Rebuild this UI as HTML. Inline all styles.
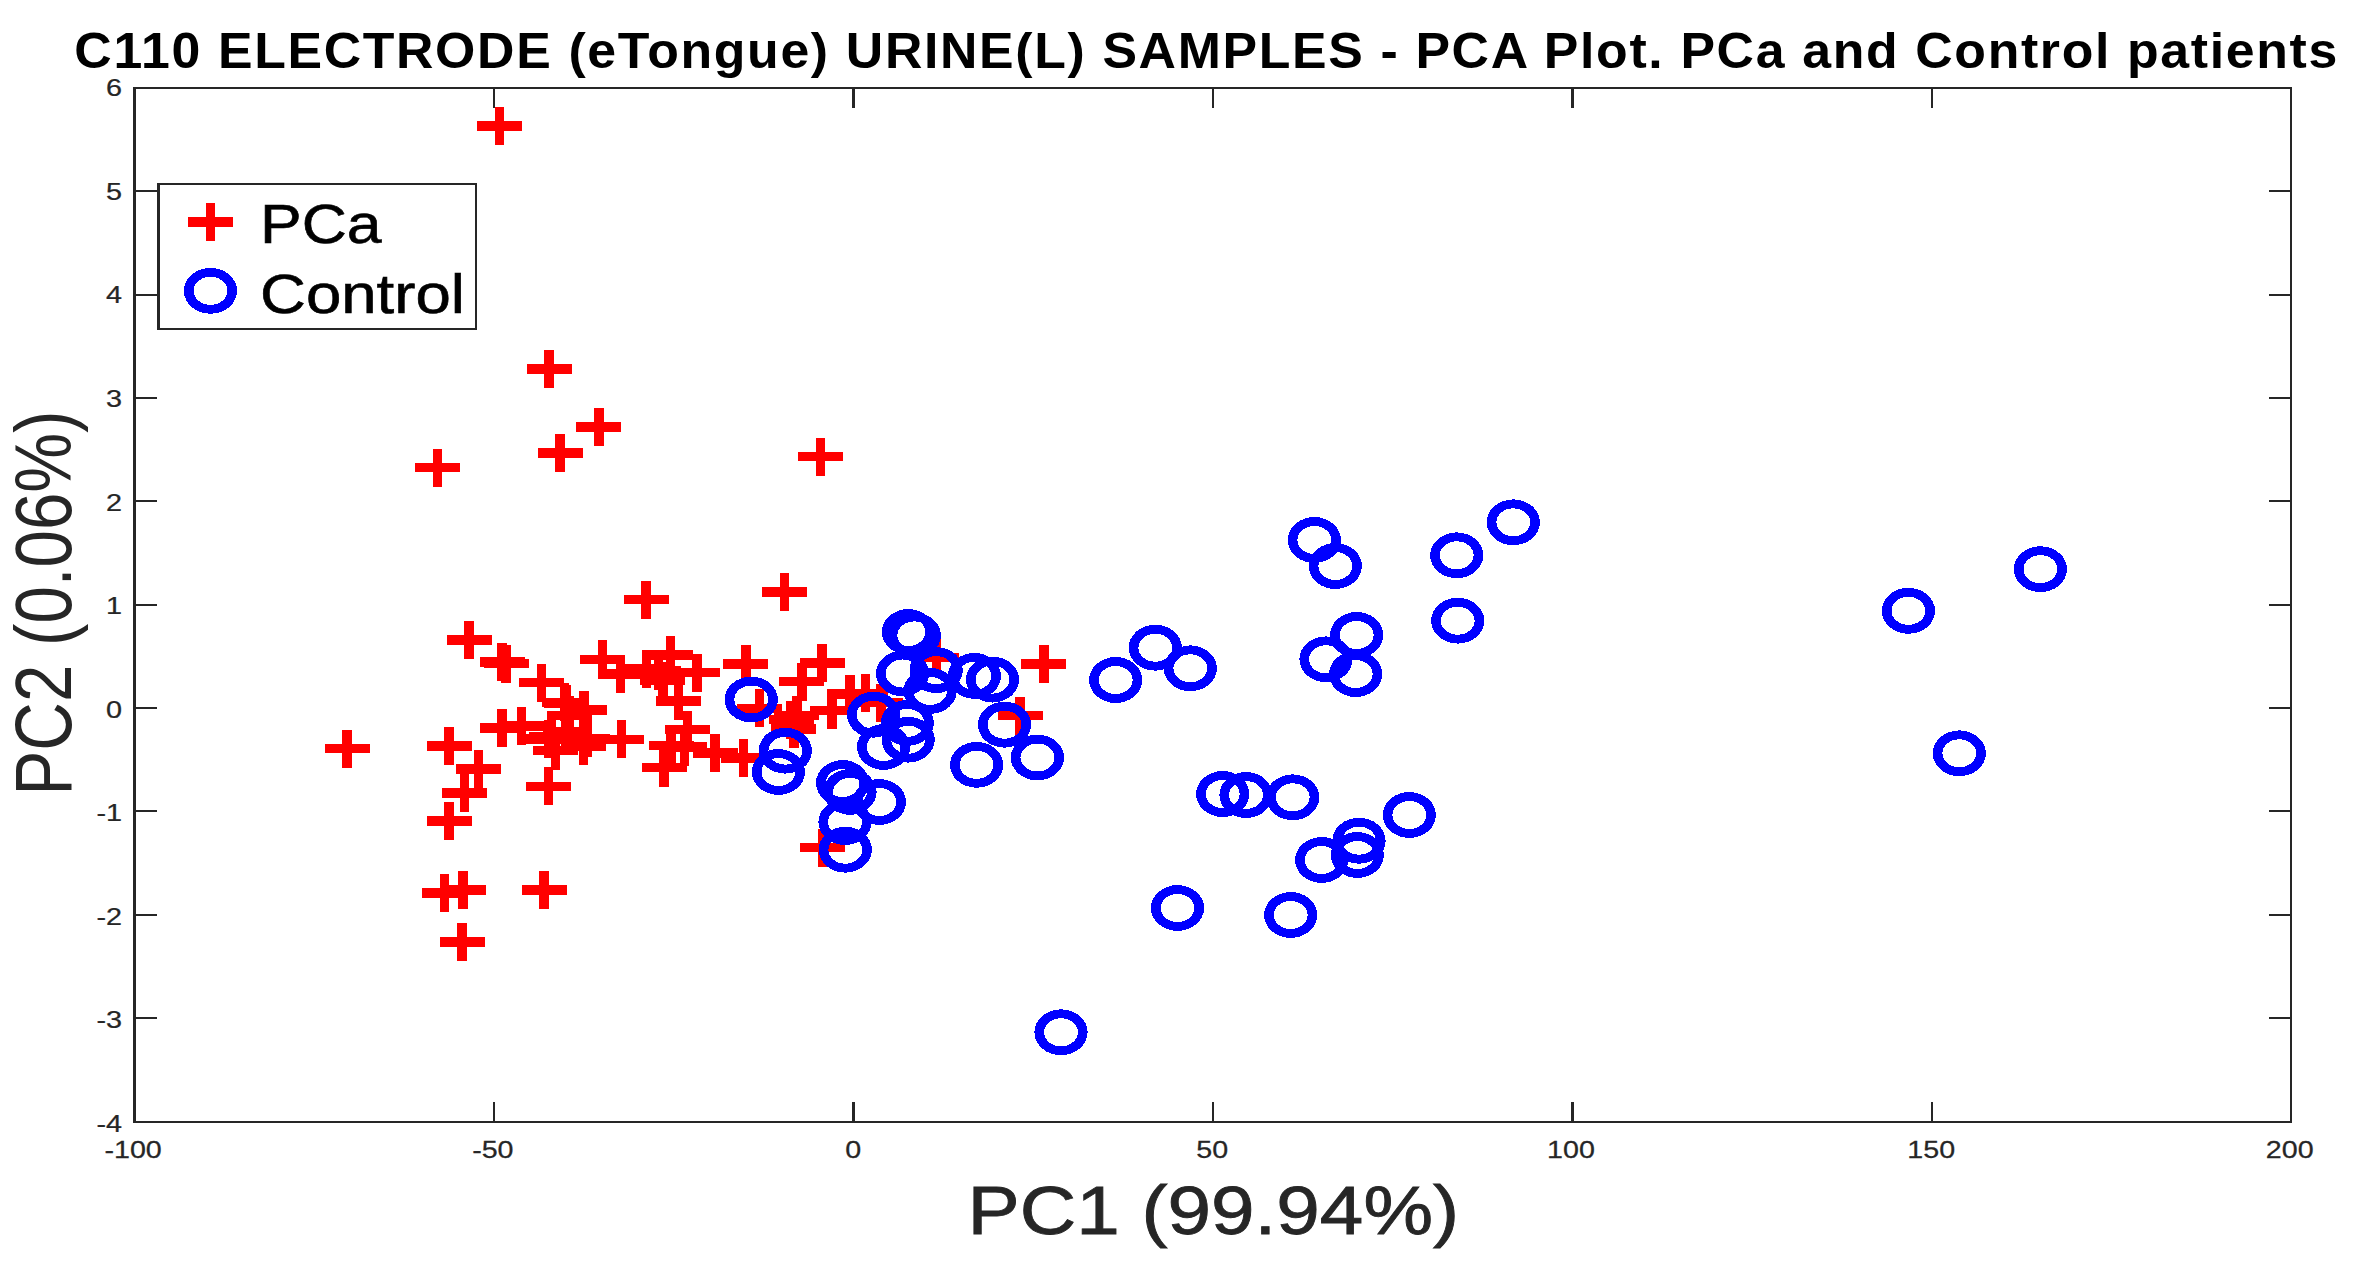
<!DOCTYPE html>
<html lang="en"><head><meta charset="utf-8">
<title>C110 ELECTRODE (eTongue) URINE(L) SAMPLES - PCA Plot</title>
<style>
html,body{margin:0;padding:0;background:#fff;}
body{width:2355px;height:1266px;overflow:hidden;}
svg{display:block;}
text{font-family:"Liberation Sans",sans-serif;}
.tk{font-size:24px;fill:#262626;stroke:#262626;stroke-width:0.25px;}
.lab{font-size:67px;fill:#262626;stroke:#262626;stroke-width:0.8px;}
.laby{stroke:none;}
.ttl{font-size:48px;font-weight:bold;fill:#000;}
.leg{font-size:54px;fill:#000;stroke:#000;stroke-width:0.6px;}
.p{fill:#ff0000;}
.c{fill:#0000ff;fill-rule:evenodd;}
</style></head><body>
<svg width="2355" height="1266" viewBox="0 0 2355 1266" shape-rendering="crispEdges">
<rect x="0" y="0" width="2355" height="1266" fill="#ffffff"/>
<g id="axes">
<rect x="133.10" y="87.00" width="2158.90" height="2.00" fill="#262626"/>
<rect x="133.10" y="1120.50" width="2158.90" height="2.00" fill="#262626"/>
<rect x="133.10" y="88.00" width="3.00" height="1033.50" fill="#262626"/>
<rect x="2290.00" y="88.00" width="2.00" height="1033.50" fill="#262626"/>
<rect x="492.80" y="1101.90" width="2.50" height="19.60" fill="#262626"/>
<rect x="492.80" y="88.00" width="2.50" height="19.60" fill="#262626"/>
<rect x="852.25" y="1101.90" width="2.50" height="19.60" fill="#262626"/>
<rect x="852.25" y="88.00" width="2.50" height="19.60" fill="#262626"/>
<rect x="1211.70" y="1101.90" width="2.50" height="19.60" fill="#262626"/>
<rect x="1211.70" y="88.00" width="2.50" height="19.60" fill="#262626"/>
<rect x="1571.15" y="1101.90" width="2.50" height="19.60" fill="#262626"/>
<rect x="1571.15" y="88.00" width="2.50" height="19.60" fill="#262626"/>
<rect x="1930.60" y="1101.90" width="2.50" height="19.60" fill="#262626"/>
<rect x="1930.60" y="88.00" width="2.50" height="19.60" fill="#262626"/>
<rect x="134.60" y="1017.15" width="22.50" height="2.00" fill="#262626"/>
<rect x="2268.80" y="1017.15" width="22.50" height="2.00" fill="#262626"/>
<rect x="134.60" y="913.80" width="22.50" height="2.00" fill="#262626"/>
<rect x="2268.80" y="913.80" width="22.50" height="2.00" fill="#262626"/>
<rect x="134.60" y="810.45" width="22.50" height="2.00" fill="#262626"/>
<rect x="2268.80" y="810.45" width="22.50" height="2.00" fill="#262626"/>
<rect x="134.60" y="707.10" width="22.50" height="2.00" fill="#262626"/>
<rect x="2268.80" y="707.10" width="22.50" height="2.00" fill="#262626"/>
<rect x="134.60" y="603.75" width="22.50" height="2.00" fill="#262626"/>
<rect x="2268.80" y="603.75" width="22.50" height="2.00" fill="#262626"/>
<rect x="134.60" y="500.40" width="22.50" height="2.00" fill="#262626"/>
<rect x="2268.80" y="500.40" width="22.50" height="2.00" fill="#262626"/>
<rect x="134.60" y="397.05" width="22.50" height="2.00" fill="#262626"/>
<rect x="2268.80" y="397.05" width="22.50" height="2.00" fill="#262626"/>
<rect x="134.60" y="293.70" width="22.50" height="2.00" fill="#262626"/>
<rect x="2268.80" y="293.70" width="22.50" height="2.00" fill="#262626"/>
<rect x="134.60" y="190.35" width="22.50" height="2.00" fill="#262626"/>
<rect x="2268.80" y="190.35" width="22.50" height="2.00" fill="#262626"/>
</g>
<g id="ticklabels">
<text class="tk" text-anchor="middle" transform="translate(133.10,1157.60) scale(1.1950,1.0200)">-100</text>
<text class="tk" text-anchor="middle" transform="translate(492.85,1157.60) scale(1.1950,1.0200)">-50</text>
<text class="tk" text-anchor="middle" transform="translate(853.10,1157.60) scale(1.1950,1.0200)">0</text>
<text class="tk" text-anchor="middle" transform="translate(1212.25,1157.60) scale(1.1950,1.0200)">50</text>
<text class="tk" text-anchor="middle" transform="translate(1571.00,1157.60) scale(1.1950,1.0200)">100</text>
<text class="tk" text-anchor="middle" transform="translate(1931.15,1157.60) scale(1.1950,1.0200)">150</text>
<text class="tk" text-anchor="middle" transform="translate(2289.70,1157.60) scale(1.1950,1.0200)">200</text>
<text class="tk" text-anchor="end" transform="translate(122.00,1131.80) scale(1.2000,1.0000)">-4</text>
<text class="tk" text-anchor="end" transform="translate(122.00,1028.25) scale(1.2000,1.0000)">-3</text>
<text class="tk" text-anchor="end" transform="translate(122.00,924.70) scale(1.2000,1.0000)">-2</text>
<text class="tk" text-anchor="end" transform="translate(122.00,821.15) scale(1.2000,1.0000)">-1</text>
<text class="tk" text-anchor="end" transform="translate(122.00,717.60) scale(1.2000,1.0000)">0</text>
<text class="tk" text-anchor="end" transform="translate(122.00,614.05) scale(1.2000,1.0000)">1</text>
<text class="tk" text-anchor="end" transform="translate(122.00,510.50) scale(1.2000,1.0000)">2</text>
<text class="tk" text-anchor="end" transform="translate(122.00,406.95) scale(1.2000,1.0000)">3</text>
<text class="tk" text-anchor="end" transform="translate(122.00,303.40) scale(1.2000,1.0000)">4</text>
<text class="tk" text-anchor="end" transform="translate(122.00,199.85) scale(1.2000,1.0000)">5</text>
<text class="tk" text-anchor="end" transform="translate(122.00,96.30) scale(1.2000,1.0000)">6</text>
</g>
<text class="ttl" text-anchor="middle" transform="translate(1206.60,67.60) scale(1.0800,1.0400)" letter-spacing="1.52">C110 ELECTRODE (eTongue) URINE(L) SAMPLES - PCA Plot. PCa and Control patients</text>
<text class="lab" text-anchor="middle" transform="translate(1213.30,1233.60) scale(1.1680,1.0200)">PC1 (99.94%)</text>
<text class="lab laby" text-anchor="middle" transform="translate(71.20,603.00) scale(1.2000,1.0040) rotate(-90)">PC2 (0.06%)</text>
<g id="pca">
<path class="p" d="M477.1 121.2h45.0v9.4h-45.0zM494.8 106.9h9.6v38.0h-9.6z"/>
<path class="p" d="M526.5 364.3h45.0v9.4h-45.0zM544.2 350.0h9.6v38.0h-9.6z"/>
<path class="p" d="M576.2 422.3h45.0v9.4h-45.0zM593.9 408.0h9.6v38.0h-9.6z"/>
<path class="p" d="M537.5 448.3h45.0v9.4h-45.0zM555.2 434.0h9.6v38.0h-9.6z"/>
<path class="p" d="M414.8 463.0h45.0v9.4h-45.0zM432.5 448.7h9.6v38.0h-9.6z"/>
<path class="p" d="M797.8 452.0h45.0v9.4h-45.0zM815.5 437.7h9.6v38.0h-9.6z"/>
<path class="p" d="M623.5 594.9h45.0v9.4h-45.0zM641.2 580.6h9.6v38.0h-9.6z"/>
<path class="p" d="M761.8 587.3h45.0v9.4h-45.0zM779.5 573.0h9.6v38.0h-9.6z"/>
<path class="p" d="M446.7 635.1h45.0v9.4h-45.0zM464.4 620.8h9.6v38.0h-9.6z"/>
<path class="p" d="M479.5 657.1h45.0v9.4h-45.0zM497.2 642.8h9.6v38.0h-9.6z"/>
<path class="p" d="M483.7 659.0h45.0v9.4h-45.0zM501.4 644.7h9.6v38.0h-9.6z"/>
<path class="p" d="M518.9 677.8h45.0v9.4h-45.0zM536.6 663.5h9.6v38.0h-9.6z"/>
<path class="p" d="M542.0 697.5h45.0v9.4h-45.0zM559.7 683.2h9.6v38.0h-9.6z"/>
<path class="p" d="M544.1 698.8h45.0v9.4h-45.0zM561.8 684.5h9.6v38.0h-9.6z"/>
<path class="p" d="M561.6 705.3h45.0v9.4h-45.0zM579.3 691.0h9.6v38.0h-9.6z"/>
<path class="p" d="M479.5 723.3h45.0v9.4h-45.0zM497.2 709.0h9.6v38.0h-9.6z"/>
<path class="p" d="M499.1 721.3h45.0v9.4h-45.0zM516.8 707.0h9.6v38.0h-9.6z"/>
<path class="p" d="M529.1 731.8h45.0v9.4h-45.0zM546.8 717.5h9.6v38.0h-9.6z"/>
<path class="p" d="M526.1 734.1h45.0v9.4h-45.0zM543.8 719.8h9.6v38.0h-9.6z"/>
<path class="p" d="M547.0 710.7h45.0v9.4h-45.0zM564.7 696.4h9.6v38.0h-9.6z"/>
<path class="p" d="M543.2 726.8h45.0v9.4h-45.0zM560.9 712.5h9.6v38.0h-9.6z"/>
<path class="p" d="M564.9 733.7h45.0v9.4h-45.0zM582.6 719.4h9.6v38.0h-9.6z"/>
<path class="p" d="M561.0 741.7h45.0v9.4h-45.0zM578.7 727.4h9.6v38.0h-9.6z"/>
<path class="p" d="M533.0 746.0h45.0v9.4h-45.0zM550.7 731.7h9.6v38.0h-9.6z"/>
<path class="p" d="M599.0 734.7h45.0v9.4h-45.0zM616.7 720.4h9.6v38.0h-9.6z"/>
<path class="p" d="M324.5 744.0h45.0v9.4h-45.0zM342.2 729.7h9.6v38.0h-9.6z"/>
<path class="p" d="M426.7 741.3h45.0v9.4h-45.0zM444.4 727.0h9.6v38.0h-9.6z"/>
<path class="p" d="M456.0 764.3h45.0v9.4h-45.0zM473.7 750.0h9.6v38.0h-9.6z"/>
<path class="p" d="M442.0 788.3h45.0v9.4h-45.0zM459.7 774.0h9.6v38.0h-9.6z"/>
<path class="p" d="M526.0 781.7h45.0v9.4h-45.0zM543.7 767.4h9.6v38.0h-9.6z"/>
<path class="p" d="M426.7 816.2h45.0v9.4h-45.0zM444.4 801.9h9.6v38.0h-9.6z"/>
<path class="p" d="M421.8 888.3h45.0v9.4h-45.0zM439.5 874.0h9.6v38.0h-9.6z"/>
<path class="p" d="M440.5 885.3h45.0v9.4h-45.0zM458.2 871.0h9.6v38.0h-9.6z"/>
<path class="p" d="M521.7 885.1h45.0v9.4h-45.0zM539.4 870.8h9.6v38.0h-9.6z"/>
<path class="p" d="M439.7 937.2h45.0v9.4h-45.0zM457.4 922.9h9.6v38.0h-9.6z"/>
<path class="p" d="M579.8 654.7h45.0v9.4h-45.0zM597.5 640.4h9.6v38.0h-9.6z"/>
<path class="p" d="M598.1 669.1h45.0v9.4h-45.0zM615.8 654.8h9.6v38.0h-9.6z"/>
<path class="p" d="M624.0 664.3h45.0v9.4h-45.0zM641.7 650.0h9.6v38.0h-9.6z"/>
<path class="p" d="M640.2 675.8h45.0v9.4h-45.0zM657.9 661.5h9.6v38.0h-9.6z"/>
<path class="p" d="M648.0 650.3h45.0v9.4h-45.0zM665.7 636.0h9.6v38.0h-9.6z"/>
<path class="p" d="M636.0 666.3h45.0v9.4h-45.0zM653.7 652.0h9.6v38.0h-9.6z"/>
<path class="p" d="M656.0 696.1h45.0v9.4h-45.0zM673.7 681.8h9.6v38.0h-9.6z"/>
<path class="p" d="M674.7 668.0h45.0v9.4h-45.0zM692.4 653.7h9.6v38.0h-9.6z"/>
<path class="p" d="M665.0 725.0h45.0v9.4h-45.0zM682.7 710.7h9.6v38.0h-9.6z"/>
<path class="p" d="M648.5 740.9h45.0v9.4h-45.0zM666.2 726.6h9.6v38.0h-9.6z"/>
<path class="p" d="M661.8 742.1h45.0v9.4h-45.0zM679.5 727.8h9.6v38.0h-9.6z"/>
<path class="p" d="M641.5 763.0h45.0v9.4h-45.0zM659.2 748.7h9.6v38.0h-9.6z"/>
<path class="p" d="M692.5 748.3h45.0v9.4h-45.0zM710.2 734.0h9.6v38.0h-9.6z"/>
<path class="p" d="M721.0 753.3h45.0v9.4h-45.0zM738.7 739.0h9.6v38.0h-9.6z"/>
<path class="p" d="M723.2 659.3h45.0v9.4h-45.0zM740.9 645.0h9.6v38.0h-9.6z"/>
<path class="p" d="M799.5 658.3h45.0v9.4h-45.0zM817.2 644.0h9.6v38.0h-9.6z"/>
<path class="p" d="M779.2 677.0h45.0v9.4h-45.0zM796.9 662.7h9.6v38.0h-9.6z"/>
<path class="p" d="M827.2 689.3h45.0v9.4h-45.0zM844.9 675.0h9.6v38.0h-9.6z"/>
<path class="p" d="M842.8 688.5h45.0v9.4h-45.0zM860.5 674.2h9.6v38.0h-9.6z"/>
<path class="p" d="M858.2 697.9h45.0v9.4h-45.0zM875.9 683.6h9.6v38.0h-9.6z"/>
<path class="p" d="M809.5 705.5h45.0v9.4h-45.0zM827.2 691.2h9.6v38.0h-9.6z"/>
<path class="p" d="M774.2 710.5h45.0v9.4h-45.0zM791.9 696.2h9.6v38.0h-9.6z"/>
<path class="p" d="M768.7 715.0h45.0v9.4h-45.0zM786.4 700.7h9.6v38.0h-9.6z"/>
<path class="p" d="M771.3 724.3h45.0v9.4h-45.0zM789.0 710.0h9.6v38.0h-9.6z"/>
<path class="p" d="M736.8 703.6h45.0v9.4h-45.0zM754.5 689.3h9.6v38.0h-9.6z"/>
<path class="p" d="M913.9 652.9h45.0v9.4h-45.0zM931.6 638.6h9.6v38.0h-9.6z"/>
<path class="p" d="M1021.4 659.1h45.0v9.4h-45.0zM1039.1 644.8h9.6v38.0h-9.6z"/>
<path class="p" d="M997.5 711.0h45.0v9.4h-45.0zM1015.2 696.7h9.6v38.0h-9.6z"/>
<path class="p" d="M800.2 843.0h45.0v9.4h-45.0zM817.9 828.7h9.6v38.0h-9.6z"/>
</g>
<g id="control">
<path class="c" d="M724.7 699.5a26.60 22.90 0 1 0 53.20 0a26.60 22.90 0 1 0 -53.20 0zM734.4 699.5a16.90 14.00 0 1 0 33.80 0a16.90 14.00 0 1 0 -33.80 0z"/>
<path class="c" d="M881.8 632.0a26.60 22.90 0 1 0 53.20 0a26.60 22.90 0 1 0 -53.20 0zM891.5 632.0a16.90 14.00 0 1 0 33.80 0a16.90 14.00 0 1 0 -33.80 0z"/>
<path class="c" d="M887.7 635.4a26.60 22.90 0 1 0 53.20 0a26.60 22.90 0 1 0 -53.20 0zM897.4 635.4a16.90 14.00 0 1 0 33.80 0a16.90 14.00 0 1 0 -33.80 0z"/>
<path class="c" d="M876.0 673.5a26.60 22.90 0 1 0 53.20 0a26.60 22.90 0 1 0 -53.20 0zM885.7 673.5a16.90 14.00 0 1 0 33.80 0a16.90 14.00 0 1 0 -33.80 0z"/>
<path class="c" d="M909.6 670.1a26.60 22.90 0 1 0 53.20 0a26.60 22.90 0 1 0 -53.20 0zM919.3 670.1a16.90 14.00 0 1 0 33.80 0a16.90 14.00 0 1 0 -33.80 0z"/>
<path class="c" d="M903.6 690.9a26.60 22.90 0 1 0 53.20 0a26.60 22.90 0 1 0 -53.20 0zM913.3 690.9a16.90 14.00 0 1 0 33.80 0a16.90 14.00 0 1 0 -33.80 0z"/>
<path class="c" d="M947.8 675.9a26.60 22.90 0 1 0 53.20 0a26.60 22.90 0 1 0 -53.20 0zM957.5 675.9a16.90 14.00 0 1 0 33.80 0a16.90 14.00 0 1 0 -33.80 0z"/>
<path class="c" d="M965.9 679.6a26.60 22.90 0 1 0 53.20 0a26.60 22.90 0 1 0 -53.20 0zM975.6 679.6a16.90 14.00 0 1 0 33.80 0a16.90 14.00 0 1 0 -33.80 0z"/>
<path class="c" d="M847.0 714.7a26.60 22.90 0 1 0 53.20 0a26.60 22.90 0 1 0 -53.20 0zM856.7 714.7a16.90 14.00 0 1 0 33.80 0a16.90 14.00 0 1 0 -33.80 0z"/>
<path class="c" d="M857.0 747.0a26.60 22.90 0 1 0 53.20 0a26.60 22.90 0 1 0 -53.20 0zM866.7 747.0a16.90 14.00 0 1 0 33.80 0a16.90 14.00 0 1 0 -33.80 0z"/>
<path class="c" d="M880.7 722.9a26.60 22.90 0 1 0 53.20 0a26.60 22.90 0 1 0 -53.20 0zM890.4 722.9a16.90 14.00 0 1 0 33.80 0a16.90 14.00 0 1 0 -33.80 0z"/>
<path class="c" d="M881.6 739.7a26.60 22.90 0 1 0 53.20 0a26.60 22.90 0 1 0 -53.20 0zM891.3 739.7a16.90 14.00 0 1 0 33.80 0a16.90 14.00 0 1 0 -33.80 0z"/>
<path class="c" d="M758.7 750.7a26.60 22.90 0 1 0 53.20 0a26.60 22.90 0 1 0 -53.20 0zM768.4 750.7a16.90 14.00 0 1 0 33.80 0a16.90 14.00 0 1 0 -33.80 0z"/>
<path class="c" d="M751.8 772.0a26.60 22.90 0 1 0 53.20 0a26.60 22.90 0 1 0 -53.20 0zM761.5 772.0a16.90 14.00 0 1 0 33.80 0a16.90 14.00 0 1 0 -33.80 0z"/>
<path class="c" d="M977.9 724.7a26.60 22.90 0 1 0 53.20 0a26.60 22.90 0 1 0 -53.20 0zM987.6 724.7a16.90 14.00 0 1 0 33.80 0a16.90 14.00 0 1 0 -33.80 0z"/>
<path class="c" d="M950.0 764.8a26.60 22.90 0 1 0 53.20 0a26.60 22.90 0 1 0 -53.20 0zM959.7 764.8a16.90 14.00 0 1 0 33.80 0a16.90 14.00 0 1 0 -33.80 0z"/>
<path class="c" d="M1010.8 757.5a26.60 22.90 0 1 0 53.20 0a26.60 22.90 0 1 0 -53.20 0zM1020.5 757.5a16.90 14.00 0 1 0 33.80 0a16.90 14.00 0 1 0 -33.80 0z"/>
<path class="c" d="M816.0 783.0a26.60 22.90 0 1 0 53.20 0a26.60 22.90 0 1 0 -53.20 0zM825.7 783.0a16.90 14.00 0 1 0 33.80 0a16.90 14.00 0 1 0 -33.80 0z"/>
<path class="c" d="M823.4 791.9a26.60 22.90 0 1 0 53.20 0a26.60 22.90 0 1 0 -53.20 0zM833.1 791.9a16.90 14.00 0 1 0 33.80 0a16.90 14.00 0 1 0 -33.80 0z"/>
<path class="c" d="M852.8 802.0a26.60 22.90 0 1 0 53.20 0a26.60 22.90 0 1 0 -53.20 0zM862.5 802.0a16.90 14.00 0 1 0 33.80 0a16.90 14.00 0 1 0 -33.80 0z"/>
<path class="c" d="M818.4 822.0a26.60 22.90 0 1 0 53.20 0a26.60 22.90 0 1 0 -53.20 0zM828.1 822.0a16.90 14.00 0 1 0 33.80 0a16.90 14.00 0 1 0 -33.80 0z"/>
<path class="c" d="M818.7 849.7a26.60 22.90 0 1 0 53.20 0a26.60 22.90 0 1 0 -53.20 0zM828.4 849.7a16.90 14.00 0 1 0 33.80 0a16.90 14.00 0 1 0 -33.80 0z"/>
<path class="c" d="M1486.7 522.3a26.60 22.90 0 1 0 53.20 0a26.60 22.90 0 1 0 -53.20 0zM1496.4 522.3a16.90 14.00 0 1 0 33.80 0a16.90 14.00 0 1 0 -33.80 0z"/>
<path class="c" d="M1430.1 555.3a26.60 22.90 0 1 0 53.20 0a26.60 22.90 0 1 0 -53.20 0zM1439.8 555.3a16.90 14.00 0 1 0 33.80 0a16.90 14.00 0 1 0 -33.80 0z"/>
<path class="c" d="M1287.7 540.0a26.60 22.90 0 1 0 53.20 0a26.60 22.90 0 1 0 -53.20 0zM1297.4 540.0a16.90 14.00 0 1 0 33.80 0a16.90 14.00 0 1 0 -33.80 0z"/>
<path class="c" d="M1308.7 566.0a26.60 22.90 0 1 0 53.20 0a26.60 22.90 0 1 0 -53.20 0zM1318.4 566.0a16.90 14.00 0 1 0 33.80 0a16.90 14.00 0 1 0 -33.80 0z"/>
<path class="c" d="M1431.1 620.7a26.60 22.90 0 1 0 53.20 0a26.60 22.90 0 1 0 -53.20 0zM1440.8 620.7a16.90 14.00 0 1 0 33.80 0a16.90 14.00 0 1 0 -33.80 0z"/>
<path class="c" d="M1330.1 635.0a26.60 22.90 0 1 0 53.20 0a26.60 22.90 0 1 0 -53.20 0zM1339.8 635.0a16.90 14.00 0 1 0 33.80 0a16.90 14.00 0 1 0 -33.80 0z"/>
<path class="c" d="M1299.4 659.3a26.60 22.90 0 1 0 53.20 0a26.60 22.90 0 1 0 -53.20 0zM1309.1 659.3a16.90 14.00 0 1 0 33.80 0a16.90 14.00 0 1 0 -33.80 0z"/>
<path class="c" d="M1329.1 674.0a26.60 22.90 0 1 0 53.20 0a26.60 22.90 0 1 0 -53.20 0zM1338.8 674.0a16.90 14.00 0 1 0 33.80 0a16.90 14.00 0 1 0 -33.80 0z"/>
<path class="c" d="M1128.7 647.7a26.60 22.90 0 1 0 53.20 0a26.60 22.90 0 1 0 -53.20 0zM1138.4 647.7a16.90 14.00 0 1 0 33.80 0a16.90 14.00 0 1 0 -33.80 0z"/>
<path class="c" d="M1163.7 668.3a26.60 22.90 0 1 0 53.20 0a26.60 22.90 0 1 0 -53.20 0zM1173.4 668.3a16.90 14.00 0 1 0 33.80 0a16.90 14.00 0 1 0 -33.80 0z"/>
<path class="c" d="M1089.1 680.0a26.60 22.90 0 1 0 53.20 0a26.60 22.90 0 1 0 -53.20 0zM1098.8 680.0a16.90 14.00 0 1 0 33.80 0a16.90 14.00 0 1 0 -33.80 0z"/>
<path class="c" d="M1196.1 794.0a26.60 22.90 0 1 0 53.20 0a26.60 22.90 0 1 0 -53.20 0zM1205.8 794.0a16.90 14.00 0 1 0 33.80 0a16.90 14.00 0 1 0 -33.80 0z"/>
<path class="c" d="M1219.4 795.0a26.60 22.90 0 1 0 53.20 0a26.60 22.90 0 1 0 -53.20 0zM1229.1 795.0a16.90 14.00 0 1 0 33.80 0a16.90 14.00 0 1 0 -33.80 0z"/>
<path class="c" d="M1266.1 797.3a26.60 22.90 0 1 0 53.20 0a26.60 22.90 0 1 0 -53.20 0zM1275.8 797.3a16.90 14.00 0 1 0 33.80 0a16.90 14.00 0 1 0 -33.80 0z"/>
<path class="c" d="M1382.7 815.0a26.60 22.90 0 1 0 53.20 0a26.60 22.90 0 1 0 -53.20 0zM1392.4 815.0a16.90 14.00 0 1 0 33.80 0a16.90 14.00 0 1 0 -33.80 0z"/>
<path class="c" d="M1332.4 840.7a26.60 22.90 0 1 0 53.20 0a26.60 22.90 0 1 0 -53.20 0zM1342.1 840.7a16.90 14.00 0 1 0 33.80 0a16.90 14.00 0 1 0 -33.80 0z"/>
<path class="c" d="M1330.7 855.0a26.60 22.90 0 1 0 53.20 0a26.60 22.90 0 1 0 -53.20 0zM1340.4 855.0a16.90 14.00 0 1 0 33.80 0a16.90 14.00 0 1 0 -33.80 0z"/>
<path class="c" d="M1295.1 860.0a26.60 22.90 0 1 0 53.20 0a26.60 22.90 0 1 0 -53.20 0zM1304.8 860.0a16.90 14.00 0 1 0 33.80 0a16.90 14.00 0 1 0 -33.80 0z"/>
<path class="c" d="M1150.9 908.0a26.60 22.90 0 1 0 53.20 0a26.60 22.90 0 1 0 -53.20 0zM1160.6 908.0a16.90 14.00 0 1 0 33.80 0a16.90 14.00 0 1 0 -33.80 0z"/>
<path class="c" d="M1264.1 915.0a26.60 22.90 0 1 0 53.20 0a26.60 22.90 0 1 0 -53.20 0zM1273.8 915.0a16.90 14.00 0 1 0 33.80 0a16.90 14.00 0 1 0 -33.80 0z"/>
<path class="c" d="M1034.4 1032.3a26.60 22.90 0 1 0 53.20 0a26.60 22.90 0 1 0 -53.20 0zM1044.1 1032.3a16.90 14.00 0 1 0 33.80 0a16.90 14.00 0 1 0 -33.80 0z"/>
<path class="c" d="M1881.8 610.8a26.60 22.90 0 1 0 53.20 0a26.60 22.90 0 1 0 -53.20 0zM1891.5 610.8a16.90 14.00 0 1 0 33.80 0a16.90 14.00 0 1 0 -33.80 0z"/>
<path class="c" d="M2013.8 569.2a26.60 22.90 0 1 0 53.20 0a26.60 22.90 0 1 0 -53.20 0zM2023.5 569.2a16.90 14.00 0 1 0 33.80 0a16.90 14.00 0 1 0 -33.80 0z"/>
<path class="c" d="M1932.7 753.3a26.60 22.90 0 1 0 53.20 0a26.60 22.90 0 1 0 -53.20 0zM1942.4 753.3a16.90 14.00 0 1 0 33.80 0a16.90 14.00 0 1 0 -33.80 0z"/>
</g>
<g id="legend">
<rect x="157.2" y="182.8" width="319.8" height="147.2" fill="#ffffff"/>
<rect x="157.20" y="182.80" width="319.80" height="2.00" fill="#262626"/>
<rect x="157.20" y="328.00" width="319.80" height="2.00" fill="#262626"/>
<rect x="157.20" y="182.80" width="2.50" height="147.20" fill="#262626"/>
<rect x="474.50" y="182.80" width="2.50" height="147.20" fill="#262626"/>
<path class="p" d="M188.0 217.3h45.0v9.4h-45.0zM205.7 203.0h9.6v38.0h-9.6z"/>
<path class="c" d="M183.9 290.8a26.60 22.90 0 1 0 53.20 0a26.60 22.90 0 1 0 -53.20 0zM193.6 290.8a16.90 14.00 0 1 0 33.80 0a16.90 14.00 0 1 0 -33.80 0z"/>
<text class="leg" text-anchor="start" transform="translate(260.00,242.60) scale(1.1570,1.0300)">PCa</text>
<text class="leg" text-anchor="start" transform="translate(260.00,312.70) scale(1.1776,1.0300)">Control</text>
</g>
</svg>
</body></html>
